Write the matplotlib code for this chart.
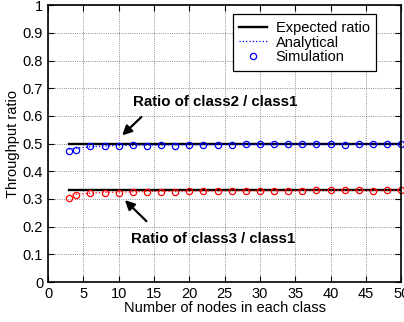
import numpy as np
import matplotlib.pyplot as plt

plt.rcParams['font.family'] = ['Liberation Sans', 'DejaVu Sans']

# number of nodes in each class
nodes = [3, 4, 6, 8, 10, 12, 14, 16, 18, 20, 22, 24, 26, 28, 30, 32, 34, 36, 38, 40,
         42, 44, 46, 48, 50]

# simulation results
sim_c2 = [0.472, 0.476, 0.490, 0.491, 0.491, 0.495, 0.492, 0.495, 0.493, 0.496,
          0.495, 0.494, 0.496, 0.497, 0.497, 0.497, 0.498, 0.498, 0.497, 0.497,
          0.496, 0.497, 0.497, 0.497, 0.498]
sim_c3 = [0.305, 0.315, 0.322, 0.323, 0.323, 0.327, 0.326, 0.327, 0.327, 0.328,
          0.329, 0.328, 0.330, 0.329, 0.330, 0.330, 0.330, 0.330, 0.331, 0.331,
          0.331, 0.331, 0.330, 0.331, 0.332]

# analytical model
ana_c2 = [0.480, 0.484, 0.489, 0.491, 0.493, 0.494, 0.495, 0.495, 0.496, 0.496,
          0.496, 0.497, 0.497, 0.497, 0.497, 0.497, 0.498, 0.498, 0.498, 0.498,
          0.498, 0.498, 0.498, 0.498, 0.498]
ana_c3 = [0.312, 0.317, 0.321, 0.324, 0.325, 0.326, 0.327, 0.328, 0.328, 0.329,
          0.329, 0.329, 0.330, 0.330, 0.330, 0.330, 0.330, 0.331, 0.331, 0.331,
          0.331, 0.331, 0.331, 0.331, 0.331]

expected_c2 = 0.5
expected_c3 = 1 / 3

fig = plt.figure(figsize=(4.04, 3.22), dpi=100)
ax = fig.add_axes([0.119, 0.124, 0.874, 0.860])

ax.plot([nodes[0], nodes[-1]], [expected_c2] * 2, color='black', lw=1.7, label='Expected ratio')
ax.plot([nodes[0], nodes[-1]], [expected_c3] * 2, color='black', lw=1.7)
ax.plot(nodes, ana_c2, color='blue', ls=':', lw=0.9, label='Analytical')
ax.plot(nodes, ana_c3, color='red', ls=':', lw=0.9)
ax.plot(nodes, sim_c2, 'o', mfc='none', mec='blue', ms=4.5, mew=0.9, ls='none',
        label='Simulation', clip_on=False)
ax.plot(nodes, sim_c3, 'o', mfc='none', mec='red', ms=4.5, mew=0.9, ls='none', clip_on=False)

ax.set_xlim(0, 50)
ax.set_ylim(0, 1)
ax.set_xticks(np.arange(0, 51, 5))
ax.set_yticks(np.arange(0, 1.01, 0.1))
ax.set_yticklabels(['0', '0.1', '0.2', '0.3', '0.4', '0.5', '0.6', '0.7', '0.8', '0.9', '1'])
ax.tick_params(direction='in', top=True, right=True, labelsize=10.5, length=4, width=0.8)
ax.grid(True, ls=':', color='black', lw=0.6, alpha=0.6)
for s in ax.spines.values():
    s.set_linewidth(1.2)

ax.set_xlabel('Number of nodes in each class', fontsize=10.5, labelpad=0)
ax.set_ylabel('Throughput ratio', fontsize=10.5, labelpad=2)

ax.annotate('', xy=(10.2, 0.523), xytext=(13.5, 0.603),
            arrowprops=dict(arrowstyle='-|>', color='black', lw=1.6, mutation_scale=14))
ax.annotate('', xy=(10.6, 0.303), xytext=(14.2, 0.213),
            arrowprops=dict(arrowstyle='-|>', color='black', lw=1.6, mutation_scale=14))
ax.text(12.0, 0.65, 'Ratio of class2 / class1', fontsize=10.8, fontweight='bold', va='center')
ax.text(11.8, 0.155, 'Ratio of class3 / class1', fontsize=10.8, fontweight='bold', va='center')

leg = ax.legend(loc='upper right', fontsize=10.5, frameon=True, fancybox=False,
                edgecolor='black', framealpha=1, borderpad=0.45, labelspacing=0.05,
                handlelength=1.9, handletextpad=0.6, numpoints=1, borderaxespad=0,
                bbox_to_anchor=(0.929, 0.967))
leg.get_frame().set_linewidth(0.9)

fig.savefig('out.png', dpi=100)
